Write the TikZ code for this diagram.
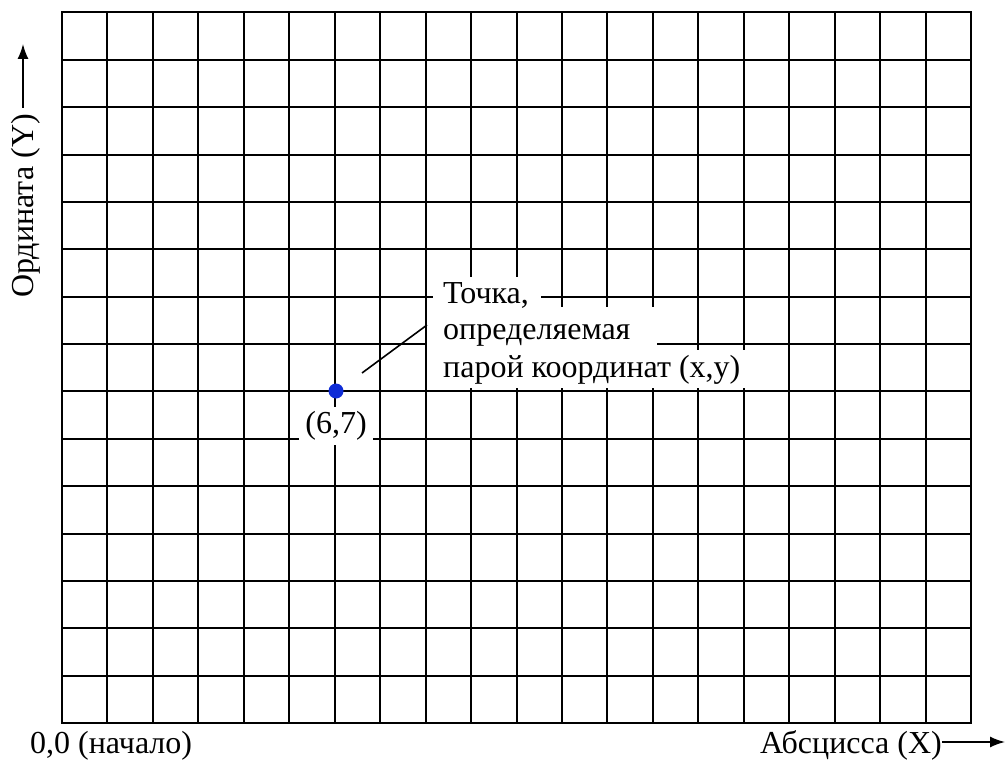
\documentclass[tikz,border=0pt]{standalone}
\usepackage{fontspec}
\setmainfont{Liberation Serif}
\usetikzlibrary{arrows.meta}
\definecolor{ptblue}{RGB}{15,45,215}
\begin{document}
\begin{tikzpicture}[x=1pt,y=-1pt,
  lbl/.style={font=\fontsize{32}{38}\selectfont, inner sep=0pt},
  gridline/.style={line width=2pt, line cap=rect},
  axisarrow/.style={line width=1.6pt, -{Latex[length=15pt,width=11pt]}},
  leader/.style={line width=1.6pt}]
\useasboundingbox (0,0) rectangle (1005,760);
% grid
\foreach \i in {0,...,20} \draw[gridline] ({62+\i*45.45},12.5) -- ({62+\i*45.45},723);
\foreach \j in {0,...,15} \draw[gridline] (62,{12.5+\j*47.37}) -- (971,{12.5+\j*47.37});
% white backing of the callout text
\fill[white] (433,277) rectangle (541,307);
\fill[white] (427,307) rectangle (657,350);
\fill[white] (431,350) rectangle (762,388);
\node[lbl, anchor=base west] (t1) at (443,303) {Точка,};
\node[lbl, anchor=base west] (t2) at (443,339) {определяемая};
\node[lbl, anchor=base west] (t3) at (443,377) {парой координат (x,y)};
% point
\node[circle, fill=ptblue, inner sep=0pt, minimum size=15pt] (pt) at (336,391) {};
\node[lbl, fill=white, inner xsep=6pt, inner ysep=4pt] (c67) at (336,426) {(6,7)};
\coordinate (la) at (362,373);
\coordinate (lb) at (427,325);
\draw[leader] (la) -- (lb);
% axis labels
\node[lbl, rotate=90, anchor=base west] (ylab) at (33,298) {Ордината (Y)};
\coordinate (ya) at (23,108);
\coordinate (yb) at (23,44);
\draw[axisarrow] (ya) -- (yb);
\node[lbl, anchor=base west] (orig) at (30,753) {0,0 (начало)};
\node[lbl, anchor=base east] (xlab) at (942,753) {Абсцисса (X)};
\coordinate (xa) at (942,742);
\coordinate (xb) at (1005,742);
\draw[axisarrow] (xa) -- (xb);
\end{tikzpicture}
\end{document}
